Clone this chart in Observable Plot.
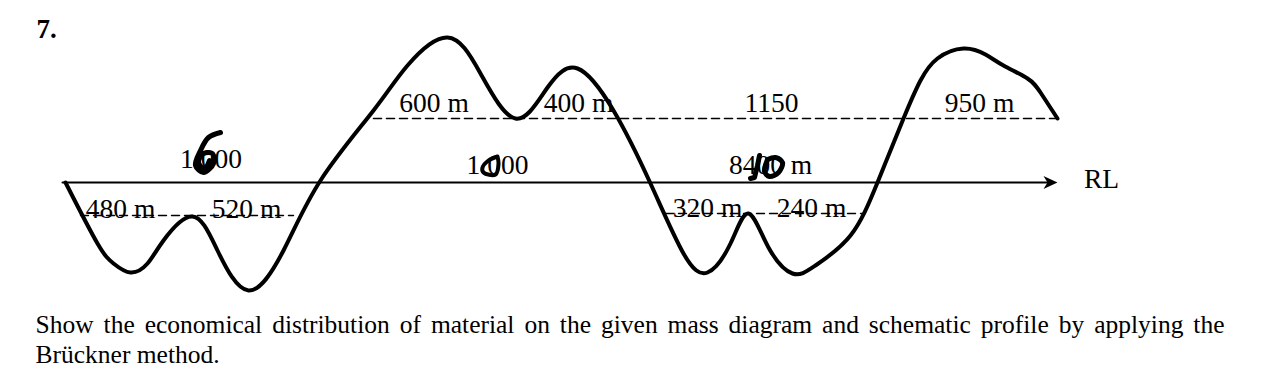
<!doctype html>
<html><head><meta charset="utf-8">
<script src="https://cdn.jsdelivr.net/npm/d3@7"></script>
<script src="https://cdn.jsdelivr.net/npm/@observablehq/plot@0.6"></script>
<style>
html,body{margin:0;padding:0;background:#fff;overflow:hidden}
svg{display:block}
</style></head><body><div id="chart"></div>
<script>
const profile=[[65,182],[97,243],[113,263],[130,272],[147,263],[163,240],[192,216],[217,250],[248,290],[283,250],[320,180],[373,110],[407,65],[447,37],[480,73],[515,118],[547,87],[577,68],[613,110],[650,183],[683,253],[707,272],[730,243],[748,213],[768,247],[792,273],[815,265],[850,235],[877,182],[903,118],[920,80],[937,58],[963,48],[985,54],[1003,65],[1027,78],[1040,92],[1057,118]];
const upperDatum=[[373,118],[1057,118]];
const lowerDatumA=[[80,215],[293,215]];
const lowerDatumB=[[665,213],[862,213]];
const axisLine=[[62,182],[1048,182]];
const arrowHead=[[1057,182],[1043,175.5],[1047,182],[1043,188.5],[1057,182]];
const handSix=[[220,132],[208,137],[200,150],[195,165],[203,172],[213,163],[212,153],[203,153],[198,162],[204,168],[209,160]];
const handZero=[[497,156],[488,160],[482,167],[483,172],[495,174],[498,163],[497,156]];
const handOne=[[759,155],[757,165],[754,177],[750,178]];
const handZeroB=[[767,159],[764,171],[769,176],[778,172],[782,162],[775,157],[767,159]];
const labels=[
 {t:"600 m",x:433.5,y:111},{t:"400 m",x:578,y:111},{t:"1150",x:771,y:111},{t:"950 m",x:979,y:111},
 {t:"1 000",x:210.5,y:167},{t:"1 000",x:497,y:173},{t:"8400 m",x:770,y:173},
 {t:"480 m",x:120,y:217},{t:"520 m",x:246,y:217},{t:"320 m",x:707,y:216},{t:"240 m",x:811,y:216},
 {t:"RL",x:1101,y:187}
];
const line1="Show the economical distribution of material on the given mass diagram and schematic profile by applying the";
const line2="Brückner method.";
const paragraph=[{t:line1,x:35,y:332},{t:line2,x:35,y:362}];
const heading=[{t:"7.",x:36,y:37}];

const font='"Liberation Serif"', bodySize=25.5;
const ctx=document.createElement("canvas").getContext("2d");
ctx.font=`${bodySize}px ${font}`;
const gaps=line1.split(" ").length-1;
const ws=(1189-ctx.measureText(line1).width)/gaps;
const st=document.createElement("style");
st.textContent=`.just text:first-child{word-spacing:${ws}px}`;
document.head.appendChild(st);

const xy={x:d=>d[0],y:d=>d[1]};
const chart=Plot.plot({
 width:1261,height:377,margin:0,
 x:{domain:[0,1261],range:[0,1261],axis:null},
 y:{domain:[0,377],range:[0,377],axis:null},
 style:{background:"#fff",fontFamily:font},
 marks:[
  Plot.line(upperDatum,{...xy,stroke:"#000",strokeWidth:1.6,strokeDasharray:"8,5"}),
  Plot.line(lowerDatumA,{...xy,stroke:"#000",strokeWidth:1.4,strokeDasharray:"8,5"}),
  Plot.line(lowerDatumB,{...xy,stroke:"#000",strokeWidth:1.4,strokeDasharray:"8,5"}),
  Plot.line(axisLine,{...xy,stroke:"#000",strokeWidth:2}),
  Plot.line(arrowHead,{...xy,stroke:"none",fill:"#000"}),
  Plot.text(labels,{x:"x",y:"y",text:"t",fontSize:27.5,textAnchor:"middle",lineAnchor:"bottom",fill:"#000"}),
  Plot.line(profile,{...xy,stroke:"#000",strokeWidth:4,curve:"natural",strokeLinejoin:"round",strokeLinecap:"round"}),
  Plot.line(handSix,{...xy,stroke:"#000",strokeWidth:5,curve:"catmull-rom",strokeLinecap:"round"}),
  Plot.line(handZero,{...xy,stroke:"#000",strokeWidth:4,curve:"catmull-rom"}),
  Plot.line(handOne,{...xy,stroke:"#000",strokeWidth:5,strokeLinecap:"round"}),
  Plot.line(handZeroB,{...xy,stroke:"#000",strokeWidth:5,curve:"catmull-rom"}),
  Plot.text(paragraph,{x:"x",y:"y",text:"t",fontSize:bodySize,textAnchor:"start",lineAnchor:"bottom",fill:"#000",className:"just"}),
  Plot.text(heading,{x:"x",y:"y",text:"t",fontSize:27,fontWeight:"bold",textAnchor:"start",lineAnchor:"bottom",fill:"#000"})
 ]
});
document.getElementById("chart").append(chart);
</script></body></html>
